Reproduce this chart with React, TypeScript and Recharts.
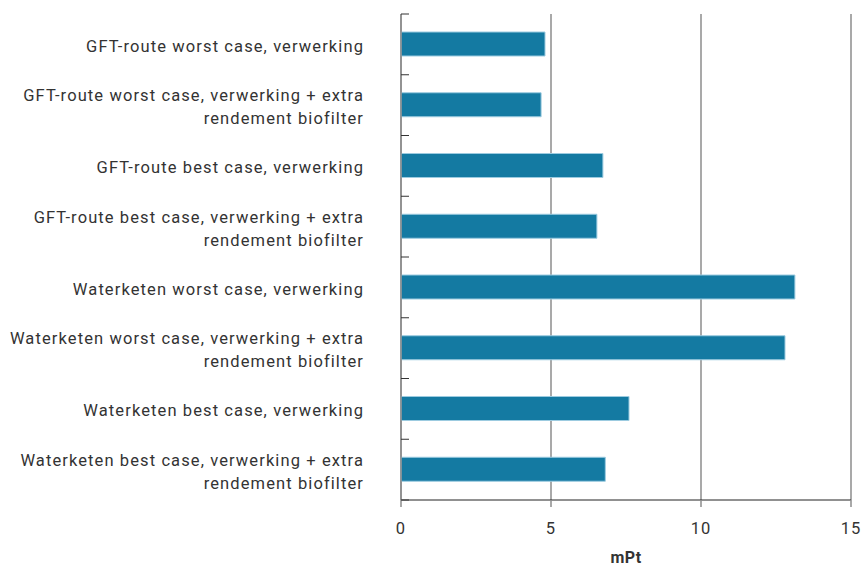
import { BarChart, Bar, XAxis, YAxis, CartesianGrid } from 'recharts';

const categories = [
  'GFT-route worst case, verwerking',
  'GFT-route worst case, verwerking + extra|rendement biofilter',
  'GFT-route best case, verwerking',
  'GFT-route best case, verwerking + extra|rendement biofilter',
  'Waterketen worst case, verwerking',
  'Waterketen worst case, verwerking + extra|rendement biofilter',
  'Waterketen best case, verwerking',
  'Waterketen best case, verwerking + extra|rendement biofilter',
];

const values = [4.8, 4.67, 6.73, 6.53, 13.13, 12.8, 7.6, 6.81];

const xTicks = [0, 5, 10, 15];

const data = categories.map((name, i) => ({ name, value: values[i] }));

const FONT = 'Roboto, sans-serif';
const TEXT = '#333333';

const CategoryTick = (props: any) => {
  const { x, y, payload, index } = props;
  const band = 486 / categories.length;
  const lines = String(payload.value).split('|');
  const offset = lines.length === 1 ? 1.5 : -10;
  return (
    <g>
      <line x1={x + 29} x2={x + 37} y1={y - band / 2} y2={y - band / 2} stroke="#333" strokeWidth={1} />
      {index === categories.length - 1 && (
        <line x1={x + 29} x2={x + 37} y1={y + band / 2} y2={y + band / 2} stroke="#333" strokeWidth={1} />
      )}
      <text
        x={x - 8}
        y={y + offset}
        textAnchor="end"
        dominantBaseline="central"
        fill={TEXT}
        fontFamily={FONT}
        fontWeight={400}
        fontSize={16.5}
        letterSpacing={1.1}
      >
        {lines.map((l, i) => (
          <tspan key={i} x={x - 8} dy={i === 0 ? 0 : 23}>
            {l}
          </tspan>
        ))}
      </text>
    </g>
  );
};

const App = () => {
  return (
    <div style={{ width: 862, height: 569, background: '#fff' }}>
      <style>{'body{margin:0}'}</style>
      <BarChart
        width={862}
        height={569}
        data={data}
        layout="vertical"
        margin={{ top: 14, right: 11, left: 0, bottom: 0 }}
      >
        <CartesianGrid vertical horizontal={false} stroke="#8c8c8c" strokeWidth={1.5} />
        <XAxis
          type="number"
          domain={[0, 15]}
          ticks={xTicks}
          height={69}
          axisLine={{ stroke: '#222', strokeWidth: 1 }}
          tickLine={{ stroke: '#8c8c8c', strokeWidth: 1.5 }}
          tickSize={7}
          tick={{ fill: TEXT, fontFamily: FONT, fontWeight: 400, fontSize: 16.5, letterSpacing: 1.1 }}
          tickMargin={15}
          label={{
            value: 'mPt',
            position: 'insideBottom',
            offset: 6,
            fill: TEXT,
            fontFamily: FONT,
            fontWeight: 700,
            fontSize: 16,
            letterSpacing: 0.5,
          }}
        />
        <YAxis
          type="category"
          dataKey="name"
          width={401}
          axisLine={{ stroke: '#8c8c8c', strokeWidth: 1.5 }}
          tickLine={false}
          tickSize={0}
          tickMargin={29}
          tick={<CategoryTick />}
          interval={0}
        />
        <Bar
          dataKey="value"
          fill="#147AA2"
          stroke="#9ccbe0"
          strokeWidth={1}
          barSize={24}
          isAnimationActive={false}
        />
      </BarChart>
    </div>
  );
};

export default App;
